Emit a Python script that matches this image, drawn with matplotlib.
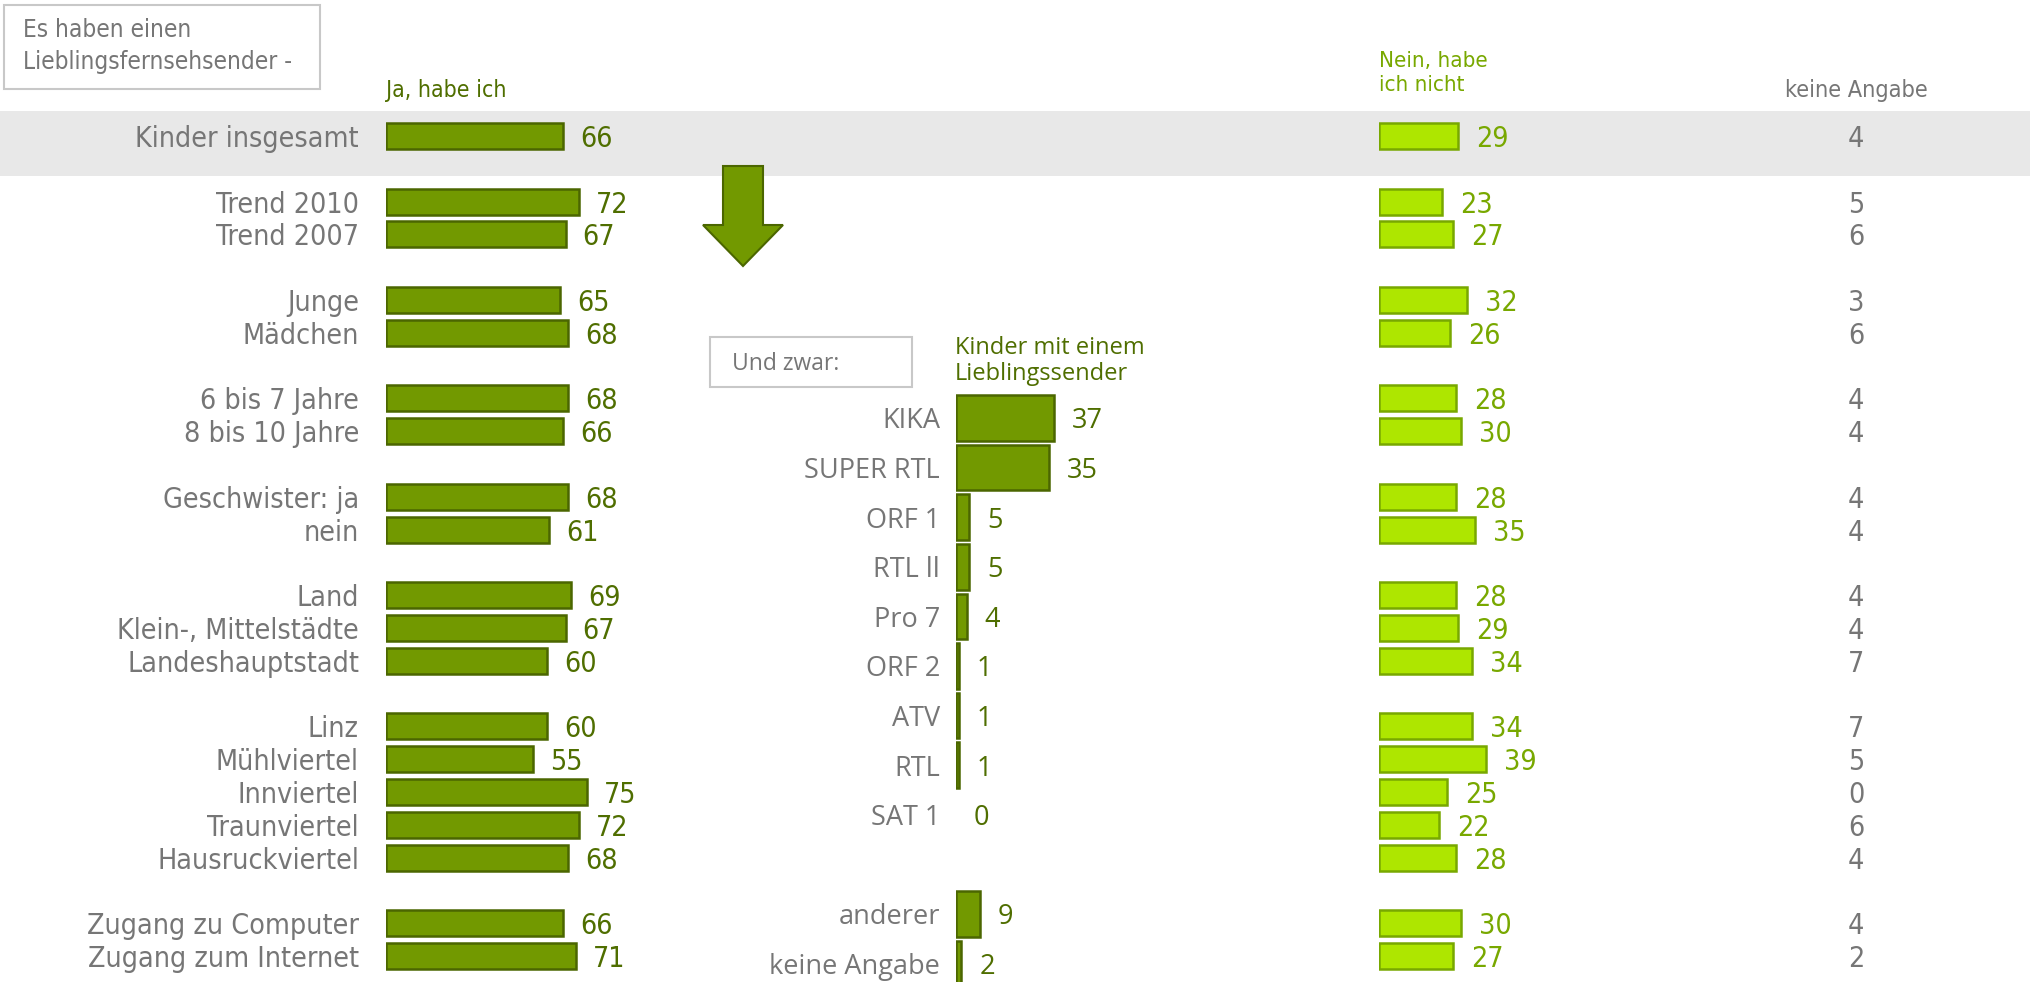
import numpy as np
import matplotlib
matplotlib.use("Agg")
import matplotlib.pyplot as plt
from matplotlib.patches import Rectangle, Polygon
from matplotlib import font_manager

# ---- data ----
groups = [
    ["Kinder insgesamt"],
    ["Trend 2010", "Trend 2007"],
    ["Junge", "Mädchen"],
    ["6 bis 7 Jahre", "8 bis 10 Jahre"],
    ["Geschwister: ja", "nein"],
    ["Land", "Klein-, Mittelstädte", "Landeshauptstadt"],
    ["Linz", "Mühlviertel", "Innviertel", "Traunviertel", "Hausruckviertel"],
    ["Zugang zu Computer", "Zugang zum Internet"],
]
ja = [66, 72, 67, 65, 68, 68, 66, 68, 61, 69, 67, 60, 60, 55, 75, 72, 68, 66, 71]
nein = [29, 23, 27, 32, 26, 28, 30, 28, 35, 28, 29, 34, 34, 39, 25, 22, 28, 30, 27]
keine = [4, 5, 6, 3, 6, 4, 4, 4, 4, 4, 4, 7, 7, 5, 0, 6, 4, 4, 2]

sender = ["KIKA", "SUPER RTL", "ORF 1", "RTL ll", "Pro 7", "ORF 2", "ATV", "RTL", "SAT 1",
          None, "anderer", "keine Angabe"]
sender_vals = [37, 35, 5, 5, 4, 1, 1, 1, 0, None, 9, 2]

# ---- style ----
avail = {f.name for f in font_manager.fontManager.ttflist}
wide = "Open Sans" if "Open Sans" in avail else "DejaVu Sans"
has_cond = any(f.name == "DejaVu Sans" and f.stretch == "condensed"
               for f in font_manager.fontManager.ttflist)
nfont = dict(family="DejaVu Sans", fontstretch="condensed")
nsize = 20.5 if has_cond else 19

dark_fill, dark_edge = "#729900", "#4b6600"
light_fill, light_edge = "#aee600", "#78a800"
grey_txt = "#767676"
dark_txt = "#4f6e00"
light_txt = "#78a800"

W, H = 2031, 982
fig = plt.figure(figsize=(W / 100, H / 100), dpi=100)

# background layer in pixel coords
bg = fig.add_axes([0, 0, 1, 1], zorder=0)
bg.set_xlim(0, W)
bg.set_ylim(H, 0)
bg.axis("off")
bg.add_patch(Rectangle((0, 111), W, 65, color="#e8e8e8", lw=0))
bg.add_patch(Rectangle((4, 5), 316, 84, fill=False, ec="#c8c8c8", lw=1.5))
bg.text(23, 46, "Es haben einen\nLieblingsfernsehsender -", fontsize=17.5, color=grey_txt,
        **nfont, va="center", linespacing=1.4)
bg.add_patch(Rectangle((710, 337), 202, 50, fill=False, ec="#c8c8c8", lw=1.5))
bg.text(732, 364, "Und zwar:", fontsize=16.5, color=grey_txt, family=wide, va="center")
arrow = [(723, 166), (763, 166), (763, 225), (783, 225), (743, 266), (703, 225), (723, 225)]
bg.add_patch(Polygon(arrow, closed=True, fc=dark_fill, ec=dark_edge, lw=1.5))

# row positions: one blank row between groups
rows = []
r = 0
for g in groups:
    for _ in g:
        rows.append(r)
        r += 1
    r += 1
rows = np.array(rows)
labels = [lab for g in groups for lab in g]

row_px, row0 = 32.8, 136
ylim_main = ((H - row0) / row_px, -row0 / row_px)

# left panel: Ja
x0, scale = 386, 2.68
axl = fig.add_axes([x0 / W, 0, 320 / W, 1], zorder=1)
axl.set_xlim(0, 320 / scale)
axl.set_ylim(*ylim_main)
axl.axis("off")
axl.barh(rows, ja, height=0.79, color=dark_fill, edgecolor=dark_edge, lw=1.8)
for y, v, lab in zip(rows, ja, labels):
    axl.text(v + 17 / scale, y, str(v), color=dark_txt, fontsize=nsize, **nfont,
             va="center_baseline", ha="left")
    axl.text(-27 / scale, y, lab, color=grey_txt, fontsize=nsize, **nfont,
             va="center_baseline", ha="right")
axl.text(0, -1.4, "Ja, habe ich", color=dark_txt, fontsize=16.6, **nfont,
         va="center", ha="left")

# right panel: Nein
x1, scale_r = 1379.5, 2.72
axr = fig.add_axes([x1 / W, 0, 600 / W, 1], zorder=1)
axr.set_xlim(0, 600 / scale_r)
axr.set_ylim(*ylim_main)
axr.axis("off")
axr.barh(rows, nein, height=0.79, color=light_fill, edgecolor=light_edge, lw=1.8)
kx = (1856 - x1) / scale_r
for y, v, k in zip(rows, nein, keine):
    axr.text(v + 18 / scale_r, y, str(v), color=light_txt, fontsize=nsize, **nfont,
             va="center_baseline", ha="left")
    axr.text(kx, y, str(k), color=grey_txt, fontsize=nsize, **nfont,
             va="center_baseline", ha="center")
axr.text(0, -1.92, "Nein, habe\nich nicht", color=light_txt, fontsize=16, **nfont,
         va="center", ha="left", linespacing=1.2)
axr.text(kx, -1.4, "keine Angabe", color=grey_txt, fontsize=16.8, **nfont,
         va="center", ha="center")

# middle panel: channels
x2, scale_m = 956, 2.65
mid_px, mid0 = 49.6, 418
axm = fig.add_axes([x2 / W, 0, 250 / W, 1], zorder=1)
axm.set_xlim(0, 250 / scale_m)
axm.set_ylim((H - mid0) / mid_px, -mid0 / mid_px)
axm.axis("off")
mrows = [i for i, s in enumerate(sender) if s is not None]
mvals = [sender_vals[i] for i in mrows]
mlabs = [sender[i] for i in mrows]
axm.barh(mrows, mvals, height=0.92, color=dark_fill, edgecolor=dark_edge,
         lw=[1.8 if v > 0 else 0 for v in mvals])
for y, v, lab in zip(mrows, mvals, mlabs):
    axm.text(v + 18 / scale_m, y, str(v), color=dark_txt, fontsize=19.5, family=wide,
             va="center_baseline", ha="left")
    axm.text(-16 / scale_m, y, lab, color=grey_txt, fontsize=19.5, family=wide,
             va="center_baseline", ha="right")
axm.text(-1 / scale_m, -1.15, "Kinder mit einem\nLieblingssender", color=dark_txt,
         fontsize=17, family=wide, va="center", ha="left", linespacing=1.15)

fig.savefig("out.png", dpi=100)
